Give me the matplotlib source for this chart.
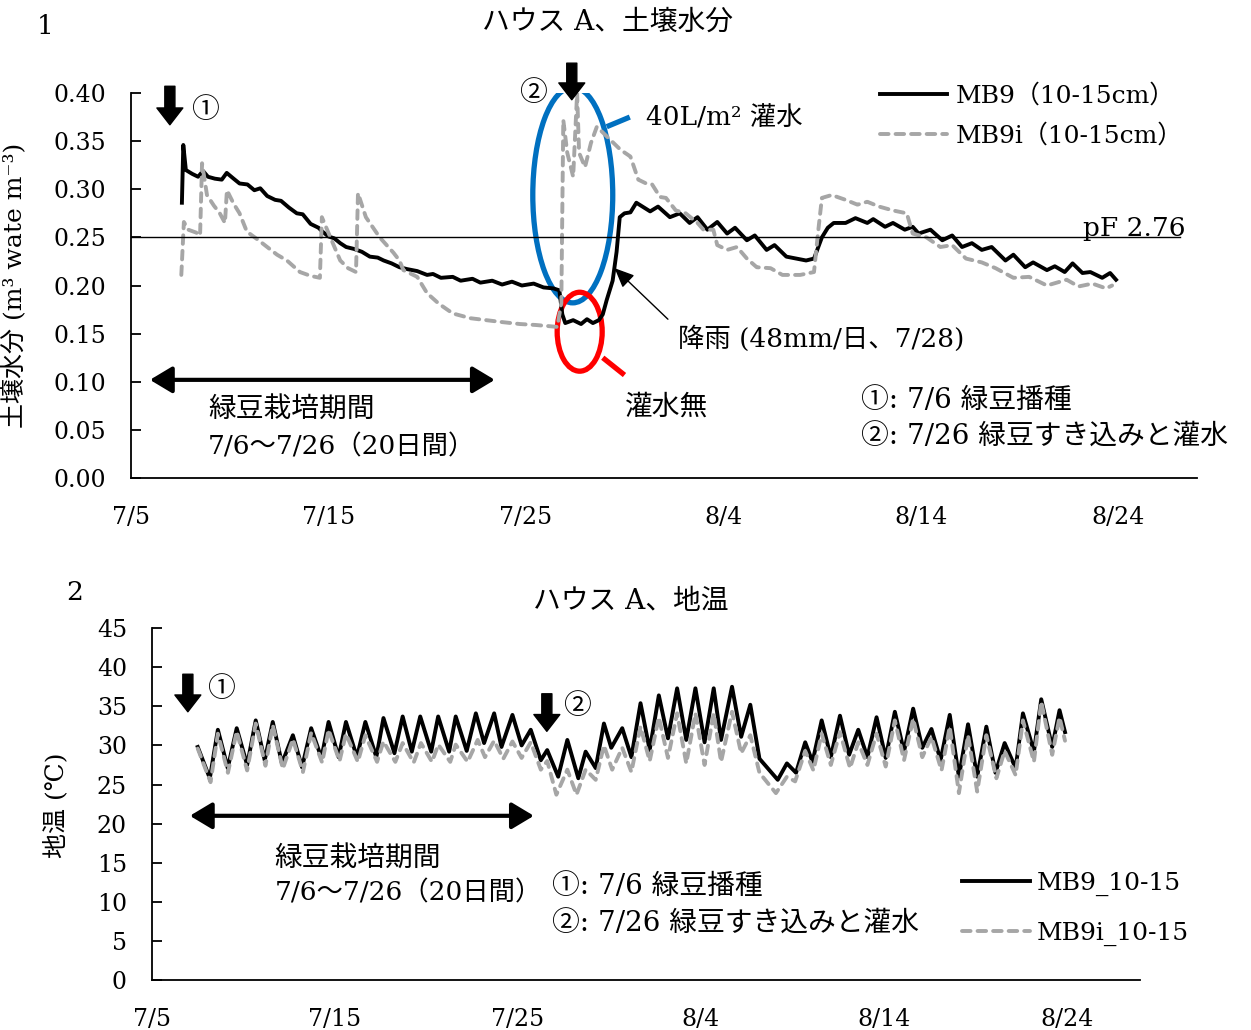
import matplotlib.pyplot as plt
from matplotlib.patches import Ellipse
import numpy as np

plt.rcParams['font.family'] = ['DejaVu Serif', 'Noto Sans CJK JP']
plt.rcParams['axes.unicode_minus'] = False

# x axis: days counted from 7/5
tick_days = [0, 10, 20, 30, 40, 50]
tick_labels = ['7/5', '7/15', '7/25', '8/4', '8/14', '8/24']

# --- soil moisture (m3/m3) ---
mb9_day = [2.58, 2.65, 2.78, 3.1, 3.4, 3.65, 3.9, 4.25, 4.6, 4.85, 5.2, 5.5, 5.9, 6.25,
           6.55, 6.9, 7.3, 7.6, 8.0, 8.4, 8.7, 9.1, 9.5, 9.7, 10.0, 10.3, 10.6, 10.9,
           11.3, 11.7, 12.1, 12.5, 12.8, 13.2, 13.6, 14.0, 14.5, 15.0, 15.3, 15.7, 16.3,
           16.7, 17.3, 17.7, 18.3, 18.8, 19.3, 19.8, 20.4, 20.9, 21.4, 21.7, 21.85, 22.0,
           22.4, 22.8, 23.1, 23.4, 23.7, 23.9, 24.1, 24.4, 24.6, 24.76, 25.0, 25.3, 25.6,
           26.3, 26.7, 27.3, 27.8, 28.3, 28.7, 29.2, 29.7, 30.2, 30.6, 31.2, 31.6, 32.2,
           32.6, 33.2, 33.7, 34.2, 34.6, 35.0, 35.3, 35.6, 36.2, 36.7, 37.3, 37.6, 38.2,
           38.6, 39.2, 39.6, 39.9, 40.5, 41.1, 41.6, 42.1, 42.6, 43.1, 43.6, 44.3, 44.7,
           45.3, 45.7, 46.4, 46.8, 47.3, 47.7, 48.2, 48.6, 49.2, 49.6, 49.9]
mb9_val = [0.286, 0.346, 0.320, 0.316, 0.313, 0.319, 0.313, 0.311, 0.310, 0.317, 0.311,
           0.306, 0.305, 0.299, 0.301, 0.293, 0.289, 0.288, 0.281, 0.275, 0.274, 0.264,
           0.260, 0.256, 0.251, 0.249, 0.244, 0.240, 0.238, 0.235, 0.230, 0.229, 0.226,
           0.223, 0.219, 0.217, 0.215, 0.211, 0.212, 0.208, 0.209, 0.205, 0.207, 0.203,
           0.205, 0.201, 0.204, 0.200, 0.202, 0.198, 0.197, 0.195, 0.170, 0.161, 0.164,
           0.160, 0.165, 0.161, 0.164, 0.170, 0.185, 0.205, 0.235, 0.271, 0.275, 0.276,
           0.286, 0.277, 0.282, 0.271, 0.275, 0.265, 0.271, 0.258, 0.266, 0.254, 0.260,
           0.247, 0.252, 0.237, 0.242, 0.230, 0.228, 0.226, 0.228, 0.250, 0.260, 0.265,
           0.265, 0.270, 0.265, 0.269, 0.261, 0.265, 0.258, 0.261, 0.254, 0.258, 0.247,
           0.252, 0.240, 0.244, 0.237, 0.240, 0.226, 0.232, 0.219, 0.224, 0.216, 0.220,
           0.214, 0.223, 0.213, 0.214, 0.208, 0.213, 0.206]

mb9i_day = [2.55, 2.68, 2.9, 3.3, 3.5, 3.6, 3.85, 4.2, 4.5, 4.76, 4.86, 5.2, 5.5, 5.87,
            6.4, 6.9, 7.4, 7.9, 8.56, 9.1, 9.57, 9.67, 10.1, 10.6, 11.0, 11.4, 11.5, 11.9,
            12.6, 13.3, 13.6, 13.8, 14.5, 15.0, 15.6, 16.3, 17.2, 18.0, 18.8, 19.7, 20.5,
            21.6, 21.8, 21.9, 22.1, 22.4, 22.6, 22.7, 23.0, 23.3, 23.6, 24.3, 24.8, 25.3,
            25.7, 26.1, 26.4, 26.8, 27.1, 27.6, 28.1, 28.7, 29.0, 29.5, 29.7, 30.2, 30.7,
            31.2, 31.7, 32.4, 33.0, 33.9, 34.6, 34.8, 35.0, 35.5, 36.2, 36.8, 37.3, 37.9,
            38.6, 39.3, 39.6, 40.3, 41.0, 41.6, 42.3, 43.1, 43.8, 44.7, 45.5, 46.4, 47.4,
            48.0, 48.7, 49.4, 49.7]
mb9i_val = [0.211, 0.266, 0.258, 0.255, 0.252, 0.327, 0.294, 0.283, 0.275, 0.265, 0.299,
            0.285, 0.275, 0.256, 0.248, 0.240, 0.232, 0.226, 0.214, 0.210, 0.208, 0.271,
            0.250, 0.226, 0.218, 0.214, 0.296, 0.271, 0.250, 0.234, 0.226, 0.216, 0.209,
            0.192, 0.181, 0.171, 0.166, 0.164, 0.162, 0.160, 0.159, 0.157, 0.182, 0.372,
            0.338, 0.313, 0.400, 0.338, 0.323, 0.348, 0.365, 0.351, 0.341, 0.334, 0.310,
            0.306, 0.305, 0.292, 0.291, 0.278, 0.275, 0.265, 0.258, 0.258, 0.242, 0.237,
            0.240, 0.228, 0.219, 0.218, 0.211, 0.211, 0.214, 0.254, 0.291, 0.294, 0.289,
            0.284, 0.287, 0.282, 0.278, 0.275, 0.254, 0.250, 0.240, 0.242, 0.228, 0.224,
            0.218, 0.208, 0.209, 0.200, 0.206, 0.199, 0.202, 0.197, 0.200]

# --- soil temperature (deg C), daily highs and lows ---
t_mb9_day = [2.5, 3.16, 3.6, 4.14, 4.63, 5.2, 5.67, 6.16, 6.6, 7.1, 7.7, 8.2, 8.7, 9.26,
             9.65, 10.2, 10.6, 11.2, 11.66, 12.26, 12.65, 13.25, 13.7, 14.2, 14.66, 15.26,
             15.64, 16.24, 16.6, 17.2, 17.7, 18.15, 18.7, 19.1, 19.7, 20.2, 20.7, 21.25,
             21.6, 22.2, 22.7, 23.3, 23.7, 24.25, 24.7, 25.1, 25.7, 26.2, 26.7, 27.2, 27.7,
             28.2, 28.7, 29.2, 29.7, 30.2, 30.7, 31.1, 31.7, 32.2, 32.7, 33.2, 34.2, 34.7,
             35.2, 35.7, 36.1, 36.6, 37.1, 37.6, 38.1, 38.6, 39.1, 39.6, 40.1, 40.6, 41.1,
             41.6, 42.1, 42.6, 43.1, 43.6, 44.1, 44.6, 45.1, 45.6, 46.1, 46.6, 47.2, 47.6,
             48.2, 48.6, 49.2, 49.6, 49.9]
t_mb9 = [29.8, 25.8, 32.0, 27.1, 32.2, 27.5, 33.2, 28.1, 33.0, 27.7, 31.3, 27.2, 32.2, 28.4,
         33.0, 28.5, 33.0, 28.5, 33.0, 28.5, 33.5, 29.0, 33.7, 29.2, 33.7, 29.2, 33.7, 29.2,
         33.7, 29.3, 34.1, 30.3, 34.1, 29.8, 33.9, 30.0, 32.0, 28.1, 29.4, 26.0, 30.7, 25.8,
         29.2, 27.1, 32.8, 29.7, 32.2, 28.5, 35.4, 29.4, 36.4, 30.9, 37.3, 30.7, 37.3, 30.4,
         37.3, 30.7, 37.5, 31.1, 35.2, 28.3, 25.6, 27.7, 26.5, 30.4, 27.9, 33.2, 28.5, 33.8,
         28.8, 32.0, 28.5, 33.6, 28.4, 34.3, 29.2, 34.7, 29.7, 32.1, 28.1, 33.9, 26.0, 32.7,
         26.0, 32.4, 26.5, 30.3, 27.1, 34.1, 29.2, 35.9, 29.8, 34.5, 31.7]

t_mb9i_day = [2.5, 3.2, 3.6, 4.15, 4.63, 5.2, 5.67, 6.2, 6.6, 7.15, 7.7, 8.25, 8.7, 9.3,
              9.65, 10.25, 10.6, 11.25, 11.66, 12.3, 12.65, 13.3, 13.7, 14.3, 14.7, 15.3,
              15.65, 16.3, 16.6, 17.25, 17.8, 18.2, 18.7, 19.2, 19.7, 20.2, 20.7, 21.25,
              21.6, 22.1, 22.7, 23.2, 23.7, 24.25, 24.7, 25.15, 25.7, 26.2, 26.7, 27.2, 27.7,
              28.2, 28.7, 29.2, 29.7, 30.2, 30.7, 31.1, 31.7, 32.2, 32.7, 33.2, 34.1, 34.7,
              35.15, 35.7, 36.15, 36.6, 37.1, 37.6, 38.15, 38.6, 39.1, 39.6, 40.1, 40.6,
              41.1, 41.6, 42.1, 42.6, 43.15, 43.6, 44.1, 44.6, 45.1, 45.6, 46.15, 46.6,
              47.2, 47.6, 48.2, 48.6, 49.2, 49.6, 49.9]
t_mb9i = [29.6, 25.3, 31.5, 26.5, 31.8, 26.8, 32.8, 27.4, 32.6, 27.0, 30.8, 26.6, 31.6,
          27.8, 32.0, 28.0, 31.5, 27.9, 31.3, 27.9, 30.5, 27.9, 30.3, 27.8, 30.3, 27.9, 30.1,
          27.9, 30.1, 27.9, 30.7, 28.5, 30.6, 28.3, 30.5, 28.4, 30.4, 26.9, 28.0, 23.7, 26.9,
          23.7, 26.9, 25.6, 30.0, 26.9, 29.7, 26.6, 32.4, 28.0, 33.6, 28.4, 34.1, 27.7, 34.1,
          27.5, 34.1, 27.9, 34.3, 29.0, 31.3, 26.5, 23.9, 26.0, 25.4, 29.3, 26.8, 31.5, 27.5,
          31.7, 27.1, 30.4, 27.5, 31.5, 27.3, 33.2, 28.1, 33.4, 28.5, 31.1, 26.8, 32.4, 23.9,
          31.3, 24.1, 31.3, 25.8, 29.3, 26.2, 33.2, 27.9, 35.6, 28.8, 33.6, 30.6]

GRAY = '#A6A6A6'
FS = 19
FSJ = 20

fig = plt.figure(figsize=(12.51, 10.30), dpi=100)
ax1 = fig.add_axes([0.1047, 0.5359, 0.8521, 0.3738])
ax2 = fig.add_axes([0.1215, 0.0485, 0.7898, 0.3417])


def style(ax):
    for s in ['top', 'right']:
        ax.spines[s].set_visible(False)
    for s in ['left', 'bottom']:
        ax.spines[s].set_linewidth(1.3)
    ax.set_xlim(0, 54)
    ax.set_xticks(tick_days)
    ax.set_xticklabels(tick_labels)
    ax.tick_params(axis='y', direction='in', length=7, width=1.3, pad=18, labelsize=17)
    ax.tick_params(axis='x', direction='in', length=0, pad=20, labelsize=17)


def down_arrow(ax, x, y0, y1):
    ax.annotate('', xy=(x, y1), xytext=(x, y0), annotation_clip=False,
                arrowprops=dict(arrowstyle='simple,head_length=0.55,head_width=0.85,tail_width=0.33',
                                fc='black', ec='black', mutation_scale=22,
                                shrinkA=0, shrinkB=0))


def both_arrow(ax, x0, x1, y):
    ax.annotate('', xy=(x1, y), xytext=(x0, y), annotation_clip=False,
                arrowprops=dict(arrowstyle='<|-|>,head_length=0.75,head_width=0.45',
                                color='black', lw=3, mutation_scale=18,
                                shrinkA=0, shrinkB=0))


# ---------------- chart 1 ----------------
ax1.plot(mb9_day, mb9_val, color='black', lw=2.8, solid_joinstyle='round',
         label='MB9（10-15cm）')
ax1.plot(mb9i_day, mb9i_val, color=GRAY, lw=2.8, dashes=(2.2, 1.8),
         dash_capstyle='round', label='MB9i（10-15cm）')
style(ax1)
ax1.set_ylim(0, 0.40)
ax1.set_yticks(np.arange(0, 0.401, 0.05))
ax1.yaxis.set_major_formatter(plt.FormatStrFormatter('%.2f'))
ax1.axhline(0.25, xmin=0, xmax=0.984, color='black', lw=1.0)
ax1.text(53.4, 0.2515, 'pF 2.76', ha='right', va='baseline', fontsize=FS)
ax1.set_ylabel('土壌水分 (m³ wate m⁻³)', fontsize=18)
ax1.yaxis.set_label_coords(-0.097, 0.5)

ax1.add_patch(Ellipse((22.38, 0.294), 4.05, 0.224, fill=False, ec='#0070C0', lw=3.8))
ax1.plot([24.1, 25.27], [0.365, 0.375], color='#0070C0', lw=3.8, solid_capstyle='butt')
ax1.add_patch(Ellipse((22.73, 0.152), 2.28, 0.082, fill=False, ec='#FF0000', lw=3.8))
ax1.plot([23.9, 25.0], [0.125, 0.107], color='#FF0000', lw=3.8, solid_capstyle='butt')

down_arrow(ax1, 1.97, 0.407, 0.367)
ax1.text(3.75, 0.382, '①', ha='center', va='center', fontsize=FSJ)
down_arrow(ax1, 22.33, 0.431, 0.393)
ax1.text(20.35, 0.400, '②', ha='center', va='center', fontsize=FSJ)
ax1.text(26.1, 0.374, '40L/m² 灌水', ha='left', va='center', fontsize=FS)
ax1.annotate('', xy=(24.5, 0.218), xytext=(27.2, 0.165),
             arrowprops=dict(arrowstyle='-|>,head_length=0.8,head_width=0.35',
                             color='black', lw=1.0, mutation_scale=15, shrinkA=0, shrinkB=0))
ax1.text(27.7, 0.145, '降雨 (48mm/日、7/28)', ha='left', va='center', fontsize=FS)
ax1.text(25.0, 0.074, '灌水無', ha='left', va='center', fontsize=FSJ)
both_arrow(ax1, 0.96, 18.43, 0.102)
ax1.text(3.9, 0.071, '緑豆栽培期間', ha='left', va='center', fontsize=FSJ)
ax1.text(3.9, 0.032, '7/6〜7/26（20日間）', ha='left', va='center', fontsize=FS)
ax1.text(37.0, 0.081, '①: 7/6 緑豆播種', ha='left', va='center', fontsize=FSJ)
ax1.text(37.0, 0.042, '②: 7/26 緑豆すき込みと灌水', ha='left', va='center', fontsize=FSJ)
ax1.legend(loc='upper left', bbox_to_anchor=(0.7026, 1.023), frameon=False, fontsize=18,
           borderpad=0, borderaxespad=0, handlelength=2.7, handletextpad=0.35,
           labelspacing=0.64)

# ---------------- chart 2 ----------------
ax2.plot(t_mb9_day, t_mb9, color='black', lw=2.8, solid_joinstyle='round',
         label='MB9_10-15')
ax2.plot(t_mb9i_day, t_mb9i, color=GRAY, lw=2.8, dashes=(2.2, 1.8),
         dash_capstyle='round', label='MB9i_10-15')
style(ax2)
ax2.set_ylim(0, 45)
ax2.set_yticks(range(0, 46, 5))
ax2.set_ylabel('地温 (℃)', fontsize=18)
ax2.yaxis.set_label_coords(-0.085, 0.497)

down_arrow(ax2, 1.96, 39.1, 34.3)
ax2.text(3.76, 37.1, '①', ha='center', va='center', fontsize=FSJ)
down_arrow(ax2, 21.58, 36.6, 31.8)
ax2.text(23.2, 35.0, '②', ha='center', va='center', fontsize=FSJ)
both_arrow(ax2, 2.07, 20.87, 21.0)
ax2.text(6.7, 15.6, '緑豆栽培期間', ha='left', va='center', fontsize=FSJ)
ax2.text(6.7, 11.1, '7/6〜7/26（20日間）', ha='left', va='center', fontsize=FS)
ax2.text(21.85, 12.0, '①: 7/6 緑豆播種', ha='left', va='center', fontsize=FSJ)
ax2.text(21.85, 7.2, '②: 7/26 緑豆すき込みと灌水', ha='left', va='center', fontsize=FSJ)
ax2.legend(loc='upper left', bbox_to_anchor=(0.820, 0.307), frameon=False, fontsize=18,
           borderpad=0, borderaxespad=0, handlelength=2.7, handletextpad=0.3,
           labelspacing=1.03)

# titles and panel numbers
fig.text(0.486, 0.9786, 'ハウス A、土壌水分', ha='center', va='center', fontsize=FSJ)
fig.text(0.036, 0.974, '1', ha='center', va='center', fontsize=FS)
fig.text(0.504, 0.4165, 'ハウス A、地温', ha='center', va='center', fontsize=FSJ)
fig.text(0.060, 0.4243, '2', ha='center', va='center', fontsize=FS)

fig.savefig('out.png', dpi=100)
